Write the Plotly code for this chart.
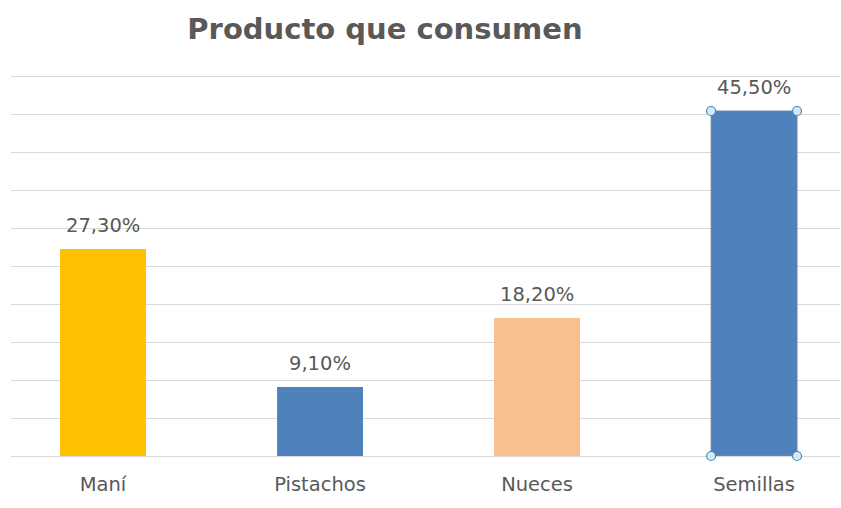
import plotly.graph_objects as go

categories = ["Maní", "Pistachos", "Nueces", "Semillas"]
values = [27.30, 9.10, 18.20, 45.50]
colors = ["#FFC000", "#4F81BD", "#F9C08F", "#4F81BD"]
labels = ["27,30%", "9,10%", "18,20%", "45,50%"]
selected = 3
bar_w = 0.396

FONT = "DejaVu Sans"
xs = list(range(len(categories)))
fig = go.Figure()
fig.add_trace(go.Bar(
    x=xs, y=values, width=bar_w,
    marker=dict(color=colors,
                line=dict(color=["rgba(0,0,0,0)"] * 3 + ["#6f8aa8"], width=1)),
    hoverinfo="skip", showlegend=False,
))
# selection handles on the selected bar
hx = [xs[selected] - bar_w / 2, xs[selected] + bar_w / 2] * 2
hy = [values[selected]] * 2 + [0, 0]
fig.add_trace(go.Scatter(
    x=hx, y=hy, mode="markers",
    marker=dict(size=9, color="#d3eaf4", line=dict(color="#4a86b8", width=1.2)),
    cliponaxis=False, showlegend=False, hoverinfo="skip",
))
for x, v, t in zip(xs, values, labels):
    fig.add_annotation(x=x, y=v, text=t, showarrow=False, yanchor="bottom",
                       yshift=10, font=dict(size=19.5, color="#595959",
                                            family=FONT))

fig.update_layout(
    width=841, height=508,
    margin=dict(l=11, r=1, t=75, b=52),
    plot_bgcolor="white", paper_bgcolor="white",
    title=dict(text="<b>Producto que consumen</b>", x=385 / 841, xanchor="center",
               y=1 - 29 / 508, yanchor="middle",
               font=dict(size=29, color="#595959", family=FONT)),
    xaxis=dict(range=[-0.424, 3.396], tickvals=xs, ticktext=categories,
               showgrid=False, zeroline=False, showline=False, ticks="",
               ticklabelstandoff=14,
               tickfont=dict(size=19.5, color="#595959", family=FONT)),
    yaxis=dict(range=[0, 50.25], tickvals=[5 * i for i in range(11)],
               showticklabels=False,
               showgrid=True, gridcolor="#d9d9d9", gridwidth=1,
               zeroline=True, zerolinecolor="#d9d9d9", zerolinewidth=1),
)
fig.write_html("out.html")
